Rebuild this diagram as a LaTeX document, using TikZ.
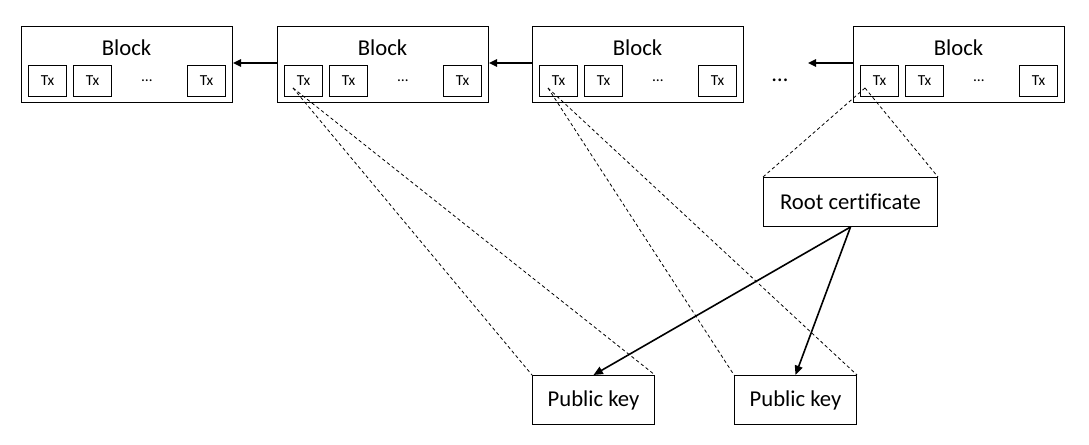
\documentclass[tikz,border=0pt]{standalone}
\usepackage{fontspec}
\setmainfont{Carlito}[Ligatures=NoCommon]
\usetikzlibrary{arrows.meta}
\begin{document}
\begin{tikzpicture}[x=0.75pt,y=-0.75pt,
  box/.style={draw, line width=0.75pt, inner sep=0pt, anchor=north west},
  blockbox/.style={box, minimum width=158.25pt, minimum height=57pt},
  txbox/.style={box, minimum width=28.5pt, minimum height=23.25pt, font=\fontsize{11.5}{13}\selectfont},
  bigbox/.style={box, minimum height=36.75pt, font=\fontsize{17}{20}\selectfont},
  title/.style={inner sep=0pt, font=\fontsize{17}{20}\selectfont},
  smalldots/.style={inner sep=0pt, font=\fontsize{11.5}{13}\selectfont},
  chainarrow/.style={line width=1.5pt, -{Triangle[length=6pt,width=5.5pt]}},
  certarrow/.style={line width=1.2pt, -{Triangle[length=7pt,width=6pt]}},
  zoomline/.style={line width=0.6pt, dash pattern=on 2.5pt off 2pt}
]
\useasboundingbox (0,0) rectangle (1089,445);

\foreach \i/\x in {1/21,2/277,3/532,4/853}{
  \node[blockbox] (b\i) at (\x,26) {};
  \node[title] (b\i t) at (\x+105.5,48) {Block};
  \node[txbox] (t\i a) at (\x+7,65) {Tx};
  \node[txbox] (t\i b) at (\x+52,65) {Tx};
  \node[smalldots] (t\i d) at (\x+126,80.5) {…};
  \node[txbox] (t\i c) at (\x+166,65) {Tx};
}

\node[title] (gap) at (780,80) {…};
\coordinate (b4in) at (808,63);

\draw[chainarrow] (b2.west |- 0,63) -- (b1.east |- 0,63);
\draw[chainarrow] (b3.west |- 0,63) -- (b2.east |- 0,63);
\draw[chainarrow] (b4.west |- 0,63) -- (b4in);

\node[bigbox, minimum width=130.5pt] (root) at (763,177) {Root certificate};
\node[bigbox, minimum width=91.5pt] (pk1) at (532,375) {Public key};
\node[bigbox, minimum width=91.5pt] (pk2) at (734,375) {Public key};

\coordinate (a2) at (293,88);
\coordinate (a3) at (548,88);
\coordinate (a4) at (865,88);

\draw[zoomline] (a2) -- (pk1.north west);
\draw[zoomline] (a2) -- (pk1.north east);
\draw[zoomline] (a3) -- (pk2.north west);
\draw[zoomline] (a3) -- (pk2.north east);
\draw[zoomline] (a4) -- (root.north west);
\draw[zoomline] (a4) -- (root.north east);

\draw[certarrow] (root.south) -- (pk1.north);
\draw[certarrow] (root.south) -- (pk2.north);
\end{tikzpicture}
\end{document}
